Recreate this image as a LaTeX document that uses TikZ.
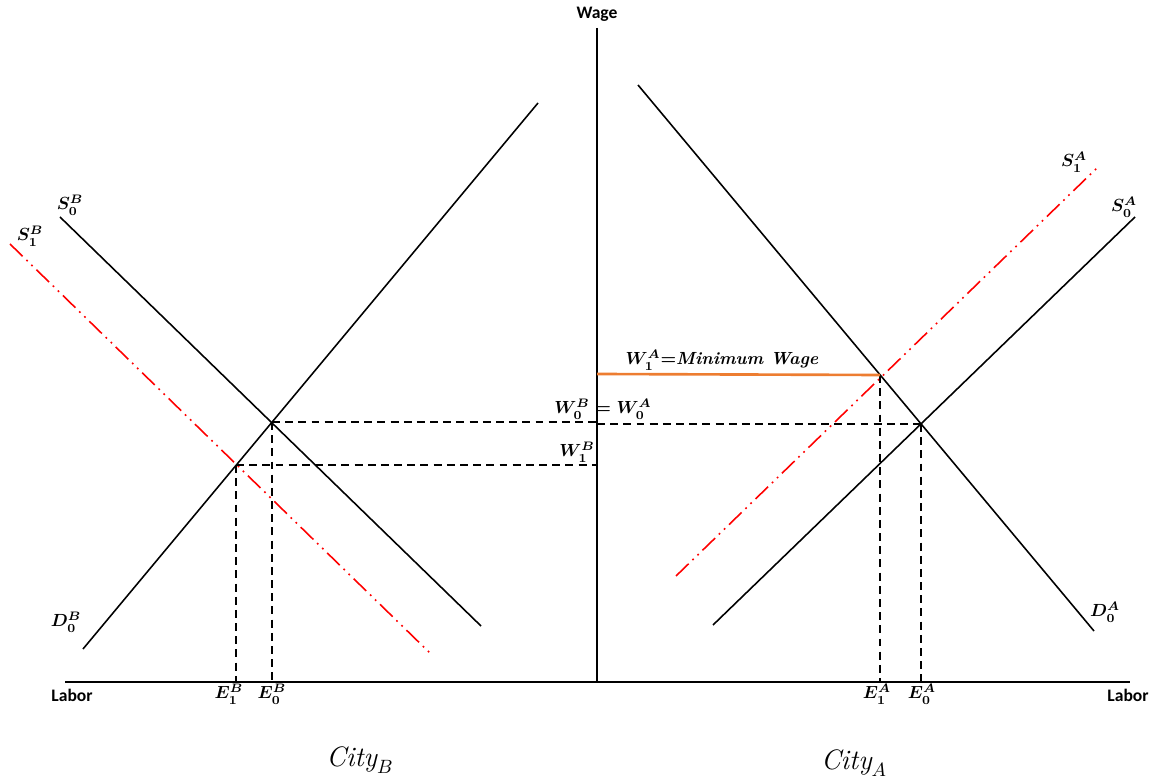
\documentclass[tikz,border=0pt]{standalone}
\usepackage{amsmath,amssymb}
\usepackage{fontspec}
\setsansfont{Carlito}
\usepackage{xcolor}
\usepackage{tikz}
\usetikzlibrary{positioning}

\definecolor{minorange}{RGB}{237,125,49}
\tikzset{
    curve/.style={line width=0.9pt},
    shifted/.style={red, line width=0.9pt, dash pattern=on 10pt off 3pt on 1pt off 3pt on 1pt off 3pt},
    guide/.style={line width=0.9pt, dash pattern=on 4.5pt off 3pt},
    lbl/.style={font=\bfseries\boldmath, inner sep=1pt},
    axislbl/.style={font=\sffamily\bfseries, inner sep=1pt}
}

\begin{document}
\begin{tikzpicture}[x=0.02cm, y=-0.02cm]
        \useasboundingbox (0,0) rectangle (1156,783);

        % Ejes
        \coordinate (o) at (597,682);
        \coordinate (top) at (597,28);
        \coordinate (xl) at (65,682);
        \coordinate (xr) at (1130,682);
        \draw[curve] (top) -- (o);
        \draw[curve] (xl) -- (xr);
        \node[axislbl] (wage) at (597,14) {Wage};
        \node[axislbl] (laborB) at (72,695) {Labor};
        \node[axislbl] (laborA) at (1128,695) {Labor};

        % Ciudad B
        \coordinate (sb0a) at (60,217);   \coordinate (sb0b) at (481,626);
        \coordinate (db0a) at (83,649);   \coordinate (db0b) at (538,103);
        \coordinate (sb1a) at (10,244);   \coordinate (sb1b) at (432,655);
        \draw[curve] (sb0a) -- (sb0b);
        \draw[curve] (db0a) -- (db0b);
        \draw[shifted] (sb1a) -- (sb1b);
        \node[lbl] (SB0) at (70,205) {$S_0^B$};
        \node[lbl] (SB1) at (30,236) {$S_1^B$};
        \node[lbl] (DB0) at (66,622) {$D_0^B$};

        \coordinate (eb0) at (272,422);
        \coordinate (eb1) at (236,465);
        \draw[guide] (eb0) -- (597,422);
        \draw[guide] (eb1) -- (597,465);
        \draw[guide] (eb0) -- (272,682);
        \draw[guide] (eb1) -- (236,682);
        \node[lbl] (EB1) at (229,694) {$E_1^B$};
        \node[lbl] (EB0) at (272,694) {$E_0^B$};
        \node[lbl] (WB1) at (577,452) {$W_1^B$};
        \node[lbl] (W0) at (603,409) {$W_0^B = W_0^A$};

        % Ciudad A
        \coordinate (da0a) at (638,85);   \coordinate (da0b) at (1094,631);
        \coordinate (sa0a) at (713,625);  \coordinate (sa0b) at (1135,217);
        \coordinate (sa1a) at (676,576);  \coordinate (sa1b) at (1099,166);
        \draw[curve] (da0a) -- (da0b);
        \draw[curve] (sa0a) -- (sa0b);
        \draw[shifted] (sa1a) -- (sa1b);
        \node[lbl] (SA1) at (1074,162) {$S_1^A$};
        \node[lbl] (SA0) at (1124,207) {$S_0^A$};
        \node[lbl] (DA0) at (1105,612) {$D_0^A$};

        \coordinate (ea0) at (921,424);
        \coordinate (ea1) at (880,375);
        \draw[guide] (597,424) -- (ea0);
        \draw[guide] (ea0) -- (921,682);
        \draw[guide] (ea1) -- (880,682);
        \draw[minorange, line width=1.5pt] (597,374) -- (ea1);
        \node[lbl] (minw) at (722,360) {$W_1^A$=\textit{Minimum Wage}};
        \node[lbl] (EA1) at (877,694) {$E_1^A$};
        \node[lbl] (EA0) at (922,694) {$E_0^A$};

        % Nombres
        \node[font=\fontsize{16}{19}\selectfont] (cityB) at (360,760) {$\mathit{City}_B$};
        \node[font=\fontsize{16}{19}\selectfont] (cityA) at (854,763) {$\mathit{City}_A$};
    \end{tikzpicture}
\end{document}
